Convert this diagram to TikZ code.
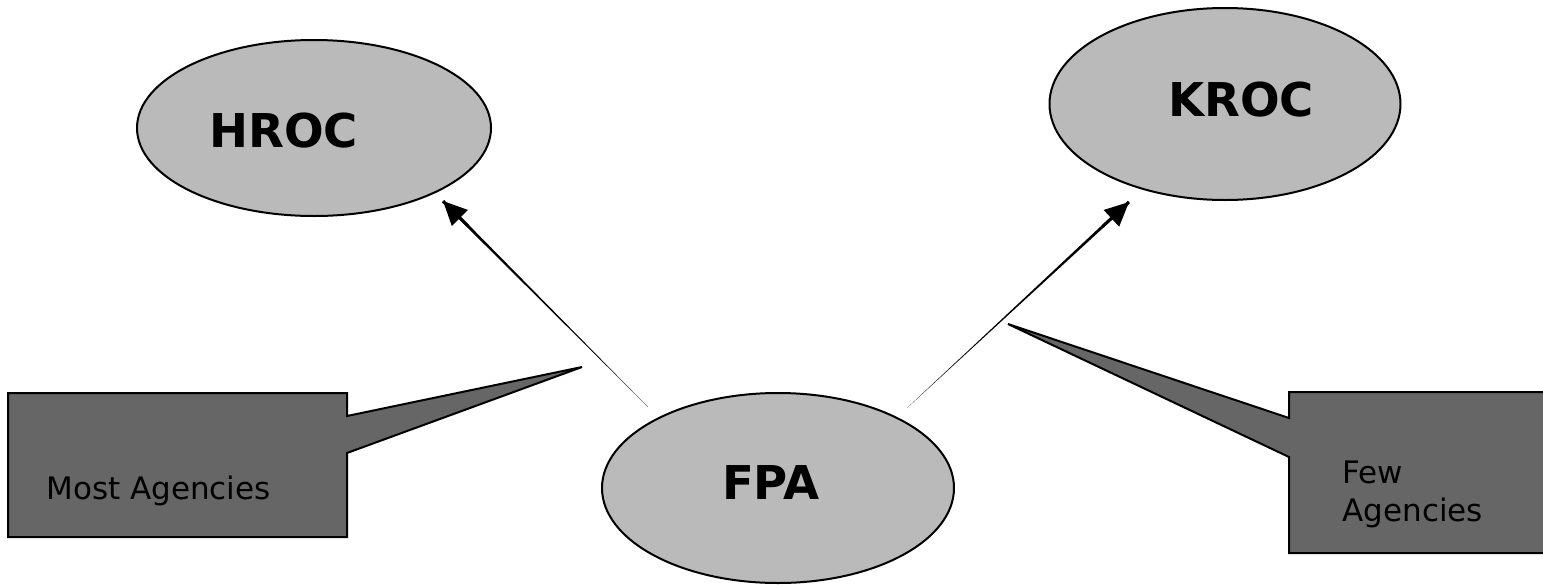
\documentclass[tikz,border=0pt]{standalone}
\usepackage{fontspec}
\setmainfont{DejaVu Sans}
\usetikzlibrary{shapes.geometric,arrows.meta,calc}
\tikzstyle{oval} = [draw, ellipse, fill=black!27, line width=1pt, inner sep=0pt]
\tikzstyle{title} = [font=\fontsize{23.3}{28}\selectfont\bfseries, inner sep=0pt, anchor=base]
\tikzstyle{note} = [font=\fontsize{15.5}{19}\selectfont, inner sep=0pt, anchor=base west]
\tikzstyle{callout} = [draw, fill=black!60, line width=1pt, line join=miter]
\tikzstyle{line} = [draw, line width=1.5pt, -{Triangle[length=12pt,width=11pt]}]

\begin{document}
\begin{tikzpicture}[x=0.5pt, y=-0.5pt]
    \useasboundingbox (0,0) rectangle (1543,584);
    \clip (0,0) rectangle (1543,584);
    % callouts
    \draw [callout] (8,393) -- (347,393) -- (347,416) -- (582,367) -- (347,453) -- (347,537) -- (8,537) -- cycle;
    \draw [callout] (1560,392) -- (1289,392) -- (1289,418) -- (1008,324) -- (1289,457) -- (1289,553) -- (1560,553) -- cycle;
    \node [note] (most) at (46,499) {Most Agencies};
    \node [note] (few) at (1342,483) {Few};
    \node [note] (agencies) at (1342,521) {Agencies};
    % ellipses
    \node [oval, minimum width=177pt, minimum height=88pt] (hroc) at (314,128) {};
    \node [oval, minimum width=175.5pt, minimum height=96pt] (kroc) at (1225,104) {};
    \node [oval, minimum width=176pt, minimum height=95pt] (fpa) at (778,488) {};
    \node [title] (hroctext) at (283.5,147) {HROC};
    \node [title] (kroctext) at (1241,116) {KROC};
    \node [title] (fpatext) at (771,499) {FPA};
    % arrows
    \coordinate (fpaL) at (648,407);
    \coordinate (hrocB) at (443,201);
    \coordinate (fpaR) at (907,408);
    \coordinate (krocB) at (1129,202);
    \fill (fpaL) -- ($(hrocB)!0.8pt!90:(fpaL)$) -- ($(hrocB)!0.8pt!-90:(fpaL)$) -- cycle;
    \fill (fpaR) -- ($(krocB)!0.8pt!90:(fpaR)$) -- ($(krocB)!0.8pt!-90:(fpaR)$) -- cycle;
    \path [line] ($(hrocB)!18pt!(fpaL)$) -- (hrocB);
    \path [line] ($(krocB)!18pt!(fpaR)$) -- (krocB);
\end{tikzpicture}
\end{document}
